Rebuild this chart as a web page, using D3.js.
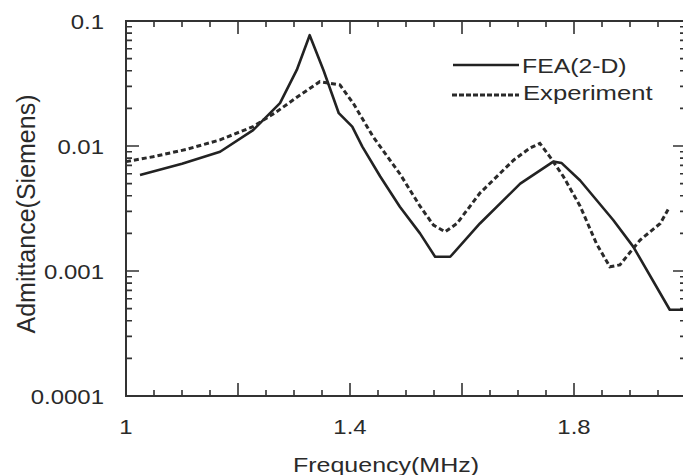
<!DOCTYPE html>
<html>
<head>
<meta charset="utf-8">
<script src="https://cdn.jsdelivr.net/npm/d3@7"></script>
<style>
  html, body { margin: 0; padding: 0; background: #fff; }
  svg text { font-family: "Liberation Sans", Arial, sans-serif; fill: #2a2a2a; }
</style>
</head>
<body>
<svg id="chart" width="683" height="475"></svg>
<script>
// FEA (2-D) curve
const feaFreq = [1.025, 1.10, 1.168, 1.227, 1.275, 1.305, 1.328, 1.353, 1.380, 1.404, 1.422, 1.454, 1.489, 1.525, 1.552, 1.579, 1.632, 1.704, 1.763, 1.778, 1.811, 1.870, 1.906, 1.971, 2.0];
const feaAdm  = [0.00586, 0.0072, 0.0090, 0.0134, 0.022, 0.0406, 0.077, 0.040, 0.0183, 0.0143, 0.0099, 0.0057, 0.00327, 0.0020, 0.0013, 0.0013, 0.0024, 0.0050, 0.0075, 0.0073, 0.0053, 0.00256, 0.00156, 0.00049, 0.00049];

// measured curve
const expFreq = [1.0, 1.048, 1.108, 1.168, 1.227, 1.269, 1.311, 1.346, 1.382, 1.406, 1.441, 1.489, 1.525, 1.549, 1.570, 1.591, 1.632, 1.692, 1.721, 1.739, 1.757, 1.781, 1.811, 1.840, 1.864, 1.882, 1.918, 1.954, 1.968];
const expAdm  = [0.0075, 0.0082, 0.0094, 0.0112, 0.0143, 0.0188, 0.0256, 0.0327, 0.0308, 0.0219, 0.0119, 0.0060, 0.0033, 0.00233, 0.00206, 0.0024, 0.0042, 0.0077, 0.0096, 0.0105, 0.0082, 0.0057, 0.0033, 0.00166, 0.00108, 0.00112, 0.00177, 0.0024, 0.0031];

const xLabelTicks = [1, 1.4, 1.8];
const yLabelTicks = [0.0001, 0.001, 0.01, 0.1];
const yTickText = ["0.0001", "0.001", "0.01", "0.1"];
const seriesNames = ["FEA(2-D)", "Experiment"];

const svg = d3.select("#chart");
const L = 126, R = 686, T = 21, B = 396;

const x = d3.scaleLinear().domain([1, 2]).range([L, R]);
const y = d3.scaleLog().domain([0.0001, 0.1]).range([B, T]);

const xMajor = d3.range(0, 6).map(i => 1 + i * 0.2);
const xMinor = d3.range(0, 21).map(i => 1 + i * 0.05).filter(v => !xMajor.some(m => Math.abs(m - v) < 1e-9));
const yMinor = [];
[-4, -3, -2].forEach(e => { for (let k = 2; k <= 9; k++) yMinor.push(k * Math.pow(10, e)); });

const stretch = (sel, k) => sel.each(function() {
  const w = this.getComputedTextLength();
  d3.select(this).attr("textLength", w * k).attr("lengthAdjust", "spacingAndGlyphs");
});

// frame
svg.append("rect").attr("x", L).attr("y", T).attr("width", R - L).attr("height", B - T)
  .attr("fill", "none").attr("stroke", "#333").attr("stroke-width", 2);

// inward ticks on all four sides
const xTicks = xMajor.map(v => ({v, len: 13})).concat(xMinor.map(v => ({v, len: 6})));
const yTicks = yLabelTicks.map(v => ({v, len: 13})).concat(yMinor.map(v => ({v, len: 6})));
const tickPath = d3.path();
xTicks.forEach(d => {
  const px = x(d.v);
  tickPath.moveTo(px, B); tickPath.lineTo(px, B - d.len);
  tickPath.moveTo(px, T); tickPath.lineTo(px, T + d.len);
});
yTicks.forEach(d => {
  const py = y(d.v);
  tickPath.moveTo(L, py); tickPath.lineTo(L + d.len, py);
  tickPath.moveTo(R, py); tickPath.lineTo(R - d.len, py);
});
svg.append("path").attr("d", tickPath.toString())
  .attr("fill", "none").attr("stroke", "#333").attr("stroke-width", 1.6);

// tick labels
const xl = svg.append("g").selectAll("text").data(xLabelTicks).join("text")
  .attr("x", d => x(d)).attr("y", 434).attr("text-anchor", "middle").attr("font-size", 21)
  .text(d => d3.format("")(d));
stretch(xl, 1.14);
const yl = svg.append("g").selectAll("text").data(yLabelTicks).join("text")
  .attr("x", 104).attr("y", d => y(d)).attr("dy", "0.36em").attr("text-anchor", "end").attr("font-size", 21)
  .text((d, i) => yTickText[i]);
stretch(yl, 1.14);

// curves
const line = d3.line().x(d => x(d[0])).y(d => y(d[1]));
svg.append("path")
  .datum(d3.zip(feaFreq, feaAdm))
  .attr("d", line).attr("fill", "none")
  .attr("stroke", "#222").attr("stroke-width", 2.6).attr("stroke-linejoin", "round");
svg.append("path")
  .datum(d3.zip(expFreq, expAdm))
  .attr("d", line).attr("fill", "none")
  .attr("stroke", "#2a2a2a").attr("stroke-width", 3).attr("stroke-dasharray", "5,3");

// legend
const lg = svg.append("g");
lg.append("line").attr("x1", 453).attr("x2", 519).attr("y1", 65).attr("y2", 65)
  .attr("stroke", "#222").attr("stroke-width", 2.6);
lg.append("line").attr("x1", 452).attr("x2", 519).attr("y1", 95).attr("y2", 95)
  .attr("stroke", "#2a2a2a").attr("stroke-width", 3).attr("stroke-dasharray", "5,2");
stretch(lg.append("text").attr("x", 522).attr("y", 73).attr("font-size", 21).text(seriesNames[0]), 1.18);
stretch(lg.append("text").attr("x", 523).attr("y", 100).attr("font-size", 21).text(seriesNames[1]), 1.22);

// axis titles
stretch(svg.append("text").attr("x", 386).attr("y", 472).attr("text-anchor", "middle")
  .attr("font-size", 21).text("Frequency(MHz)"), 1.19);
svg.append("text").attr("transform", "translate(35,214) rotate(-90)")
  .attr("text-anchor", "middle").attr("font-size", 25).text("Admittance(Siemens)");
</script>
</body>
</html>
